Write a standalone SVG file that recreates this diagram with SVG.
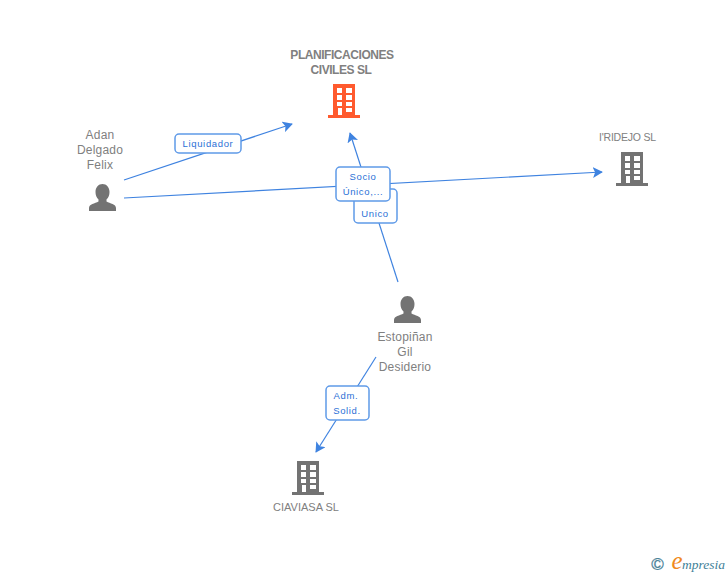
<svg xmlns="http://www.w3.org/2000/svg" width="728" height="575" viewBox="0 0 728 575">
<style>
text{font-family:"Liberation Sans",Arial,sans-serif;text-anchor:middle}
.n{font-size:12px;fill:#808080;letter-spacing:.2px}
.c{font-size:11px;fill:#808080}
.b{font-size:12px;font-weight:bold;fill:#808080;letter-spacing:-.45px}
.l{font-size:9.500px;fill:#2b70d6;letter-spacing:.65px}
.e{fill:none;stroke:#3f83e0;stroke-width:1.2}
.r{fill:#fff;stroke:#5f9ae8;stroke-width:1.5}
</style>
<defs>
<marker id="a" viewBox="0 0 12 12" refX="10" refY="6" markerWidth="11" markerHeight="11" markerUnits="userSpaceOnUse" orient="auto"><path d="M0 0L11 6L0 12L2.500 6Z" fill="#3f83e0"/></marker>
<path id="bld" fill-rule="evenodd" d="M333 84H355V115H360V118H328V115H333ZM337 88V93H342V88ZM346 88V93H352V88ZM337 95V100H342V95ZM346 95V100H352V95ZM337 102V106H342V102ZM346 102V106H352V102ZM338 108V115H342V108ZM346 108V112H352V108Z"/>
<path id="per" d="M13.500 0C17.500 0 20.500 3.500 20.500 8C20.500 11 19.500 13.500 17.500 15.500V17.500C21 19.500 27 20 27 24V27H0V24C0 20 6 19.500 9.500 17.500V15.500C7.500 13.500 6.500 11 6.500 8C6.500 3.500 9.500 0 13.500 0Z" fill="#737373"/>
</defs>
<g id="connectors">
<path class="e" marker-end="url(#a)" d="M124 180L292 124"/>
<path class="e" marker-end="url(#a)" d="M124 198L602 172"/>
<path class="e" marker-end="url(#a)" d="M398 282L350 133"/>
<path class="e" marker-end="url(#a)" d="M376 357L316 452"/>
</g>
<g id="label-liquidador"><rect class="r" x="175" y="134" width="66" height="19" rx="4"/><text class="l" x="208" y="147">Liquidador</text></g>
<g id="label-unico"><rect class="r" x="354" y="189" width="43" height="34" rx="4"/><text class="l" x="375" y="217">Unico</text></g>
<g id="label-socio"><rect class="r" x="336" y="167" width="54" height="34" rx="4"/><text class="l" x="363" y="180">Socio</text><text class="l" x="363" y="195">Único,...</text></g>
<g id="label-adm"><rect class="r" x="326" y="386" width="43" height="34" rx="4"/><text class="l" x="346" y="399">Adm.</text><text class="l" x="347" y="414">Solid.</text></g>
<g id="node-planificaciones"><text class="b" x="342" y="59">PLANIFICACIONES</text><text class="b" x="341" y="74">CIVILES SL</text><use href="#bld" fill="#ff5a2e"/></g>
<g id="node-ridejo"><text class="c" x="627.500" y="141" style="font-size:10.500px;letter-spacing:-.2px">I'RIDEJO SL</text><use href="#bld" fill="#737373" transform="translate(288 68)"/></g>
<g id="node-ciaviasa"><text class="c" x="306" y="511">CIAVIASA SL</text><use href="#bld" fill="#737373" transform="translate(-36 377)"/></g>
<g id="node-adan"><text class="n" x="100" y="139">Adan</text><text class="n" x="100" y="154">Delgado</text><text class="n" x="100" y="169">Felix</text><use href="#per" x="89" y="184"/></g>
<g id="node-estopinan"><use href="#per" x="394" y="296"/><text class="n" x="405" y="341">Estopiñan</text><text class="n" x="405" y="356">Gil</text><text class="n" x="405" y="371">Desiderio</text></g>
<g id="logo"><text x="657.500" y="570" style="font-size:17px;fill:#4a8298;stroke:#4a8298;stroke-width:.3">©</text><text x="677" y="569" style="font-family:'Liberation Serif',serif;font-size:25px;font-style:italic;fill:#f08a1d">e</text><text x="703.500" y="569" style="font-family:'Liberation Serif',serif;font-size:13.500px;font-style:italic;fill:#3f7f98">mpresia</text></g>
</svg>
